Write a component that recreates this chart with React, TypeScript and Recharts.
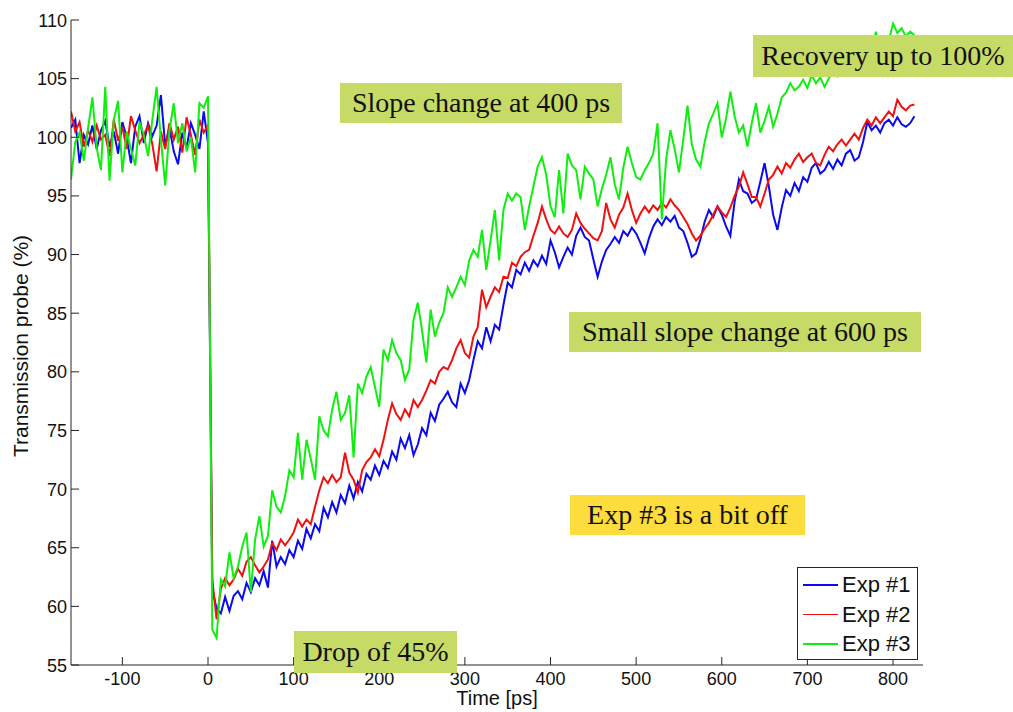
import React from "react";
import { LineChart, Line, XAxis, YAxis, Legend } from "recharts";

// Sampling times (ps), rows of 10
const times: number[] = [
  -160, -155, -150, -145, -140, -135, -130, -125, -120, -115,
  -110, -105, -100, -95, -90, -85, -80, -75, -70, -65,
  -60, -55, -50, -45, -40, -35, -30, -25, -20, -15,
  -10, -5, 0, 5, 10, 15, 20, 25, 30, 35,
  40, 45, 50, 55, 60, 65, 70, 75, 80, 85,
  90, 95, 100, 105, 110, 115, 120, 125, 130, 135,
  140, 145, 150, 155, 160, 165, 170, 175, 180, 185,
  190, 195, 200, 205, 210, 215, 220, 225, 230, 235,
  240, 245, 250, 255, 260, 265, 270, 275, 280, 285,
  290, 295, 300, 305, 310, 315, 320, 325, 330, 335,
  340, 345, 350, 355, 360, 365, 370, 375, 380, 385,
  390, 395, 400, 405, 410, 415, 420, 425, 430, 435,
  440, 445, 450, 455, 460, 465, 470, 475, 480, 485,
  490, 495, 500, 505, 510, 515, 520, 525, 530, 535,
  540, 545, 550, 555, 560, 565, 570, 575, 580, 585,
  590, 595, 600, 605, 610, 615, 620, 625, 630, 635,
  640, 645, 650, 655, 660, 665, 670, 675, 680, 685,
  690, 695, 700, 705, 710, 715, 720, 725, 730, 735,
  740, 745, 750, 755, 760, 765, 770, 775, 780, 785,
  790, 795, 800, 805, 810, 815, 820, 825,
];

// Exp #1 (blue)
const exp1: number[] = [
  100.8, 101.5, 97.8, 100.2, 99.4, 101.0, 99.0, 100.6, 101.4, 99.2,
  100.5, 98.6, 101.3, 100.0, 97.8, 100.9, 101.8, 99.5, 101.2, 100.1,
  101.0, 103.6, 99.3, 100.8, 98.8, 97.7, 100.4, 99.1, 101.2, 100.2,
  99.0, 102.2, 99.5, 61.5, 59.8, 59.4, 60.8, 59.6, 60.9, 61.3,
  60.6, 62.0, 61.2, 62.4, 61.8, 63.0, 61.6, 65.6, 63.4, 64.2,
  63.6, 64.8, 64.2, 65.6, 64.9, 66.6, 65.8, 67.0, 66.4, 68.4,
  67.6, 68.9, 68.0, 69.5, 68.8, 70.3, 69.2, 70.6, 69.8, 71.3,
  70.8, 72.0, 71.2, 72.4, 71.8, 73.2, 72.5, 74.3, 73.5, 74.6,
  72.9, 73.8, 75.2, 74.6, 76.5, 75.8, 77.2, 77.7, 78.3, 77.4,
  77.0, 79.0, 78.2, 79.3, 81.0, 82.6, 82.0, 83.8, 82.6, 84.0,
  83.6, 85.7, 87.6, 87.2, 88.7, 88.3, 89.3, 88.6, 89.5, 89.0,
  89.9, 89.2, 91.2, 90.2, 88.9, 89.8, 90.6, 90.0, 91.6, 92.3,
  91.5, 91.2, 89.6, 88.1, 89.4, 90.4, 90.9, 91.5, 91.0, 92.0,
  91.6, 92.3, 91.8, 91.0, 90.1, 91.4, 92.4, 93.0, 92.5, 93.2,
  92.8, 93.3, 92.3, 92.0, 91.0, 89.8, 90.1, 91.3, 92.8, 93.8,
  93.2, 94.1, 93.4, 92.4, 91.6, 94.5, 96.4, 95.4, 95.2, 94.4,
  94.7, 96.2, 97.8, 95.8, 93.4, 92.1, 94.0, 95.5, 95.0, 96.1,
  95.4, 96.6, 96.2, 97.4, 97.8, 96.9, 97.2, 97.9, 97.3, 98.1,
  97.6, 98.6, 98.9, 98.0, 98.3, 99.6, 101.3, 100.6, 101.0, 100.4,
  101.2, 101.5, 101.0, 101.7, 101.1, 100.9, 101.2, 101.8,
];

// Exp #2 (red)
const exp2: number[] = [
  102.2, 100.5, 101.3, 99.2, 100.6, 99.6, 101.0, 99.8, 100.2, 98.4,
  101.5, 99.7, 100.9, 99.0, 101.8, 100.6, 99.5, 100.2, 101.0, 99.4,
  97.1, 100.5, 99.0, 101.2, 99.8, 100.9, 98.7, 101.7, 100.2, 98.5,
  101.5, 100.4, 101.0, 62.3, 58.9, 61.5, 62.4, 61.8, 62.3, 63.2,
  62.6, 63.8, 64.2, 63.5, 62.9, 63.4, 64.0, 65.4, 64.8, 65.7,
  65.2, 65.7, 66.3, 67.4, 66.8, 67.4, 67.0, 68.5, 69.9, 71.0,
  70.5, 71.2, 70.6, 71.0, 73.1, 71.4, 70.8, 69.7, 71.6, 72.3,
  72.7, 73.4, 72.8, 74.2, 75.9, 77.3, 76.4, 75.9, 76.8, 76.2,
  77.6, 77.0, 77.6, 78.4, 79.3, 79.0, 80.0, 80.4, 80.2, 81.0,
  82.0, 82.7, 81.6, 81.2, 83.0, 83.8, 87.0, 85.5, 86.4, 87.2,
  86.8, 88.1, 88.0, 89.3, 89.0, 89.8, 90.2, 90.4, 91.6, 92.7,
  94.1, 93.0, 92.1, 91.8, 92.4, 91.8, 91.5, 92.1, 93.5, 92.7,
  92.2, 91.8, 91.4, 91.2, 92.0, 94.4, 93.0, 92.3, 93.4, 94.0,
  95.2, 93.8, 92.7, 93.5, 94.1, 93.6, 94.2, 93.8, 94.4, 94.0,
  94.7, 94.2, 93.8, 93.2, 92.6, 91.8, 91.2, 91.6, 92.2, 92.7,
  93.4, 94.1, 93.6, 93.2, 94.0, 95.0, 95.8, 97.0, 96.0, 94.9,
  94.9, 94.1, 95.2, 96.4, 96.8, 97.5, 96.9, 97.8, 97.4, 98.1,
  98.6, 97.9, 98.3, 98.6, 97.8, 97.6, 98.5, 99.2, 98.8, 99.4,
  99.8, 99.3, 99.8, 100.3, 99.8, 100.8, 101.5, 101.0, 101.7, 101.2,
  101.7, 102.2, 101.8, 103.2, 102.6, 102.3, 102.7, 102.8,
];

// Exp #3 (green)
const exp3: number[] = [
  96.4, 99.6, 100.4, 98.0, 100.8, 103.4, 99.1, 97.2, 104.3, 96.3,
  101.5, 103.1, 97.0, 100.5, 99.0, 97.6, 101.3, 100.2, 98.4, 101.5,
  104.3, 99.8, 95.9, 100.6, 102.9, 99.5, 101.2, 98.8, 100.0, 97.0,
  102.9, 102.5, 103.5, 58.0, 57.3, 62.3, 61.7, 64.6, 62.4, 63.4,
  65.1, 66.3, 61.2, 65.7, 67.7, 65.1, 66.0, 69.9, 68.5, 68.0,
  69.4, 71.6, 71.0, 74.8, 70.8, 74.2, 72.6, 70.8, 76.2, 75.0,
  74.5, 76.8, 78.3, 75.9, 76.5, 78.0, 72.7, 79.0, 78.2, 79.6,
  80.4, 78.7, 77.0, 81.9, 81.0, 82.7, 81.6, 81.0, 79.3, 80.2,
  84.4, 85.9, 83.5, 80.8, 85.3, 83.0, 84.2, 85.0, 87.2, 86.4,
  87.2, 88.1, 87.4, 89.5, 90.4, 89.8, 92.1, 88.7, 91.2, 93.8,
  89.5, 93.8, 95.2, 94.6, 95.2, 94.9, 92.1, 94.1, 95.8, 97.5,
  98.3, 96.8, 94.1, 93.2, 97.2, 93.5, 98.6, 97.6, 97.2, 94.7,
  97.5, 96.9, 96.4, 94.1, 95.6, 96.8, 98.3, 96.0, 94.7, 97.4,
  99.2, 97.8, 96.6, 96.4, 97.2, 97.8, 98.6, 101.2, 93.0, 98.1,
  100.6, 99.0, 97.0, 99.8, 102.7, 99.4, 98.1, 97.5, 99.6, 101.2,
  102.0, 102.9, 100.0, 101.6, 103.9, 101.8, 100.4, 101.0, 99.2, 101.2,
  102.9, 100.4, 101.4, 102.6, 100.9, 102.0, 103.4, 103.8, 104.6, 104.0,
  104.3, 104.9, 104.2, 105.3, 104.6, 105.1, 104.3, 105.0, 105.7, 105.2,
  106.0, 105.4, 106.8, 106.2, 107.0, 106.4, 107.5, 107.1, 109.0, 107.4,
  108.5, 108.2, 109.7, 108.9, 109.3, 108.6, 109.0, 108.7,
];

const xTicks = [-100, 0, 100, 200, 300, 400, 500, 600, 700, 800];
const yTicks = [55, 60, 65, 70, 75, 80, 85, 90, 95, 100, 105, 110];

const seriesNames = ["Exp #1", "Exp #2", "Exp #3"];
const seriesColors = ["#0a0af0", "#f01010", "#10ee10"];

const data = times.map((t, i) => ({ t, e1: exp1[i], e2: exp2[i], e3: exp3[i] }));

const AXIS = "#262626";
const SANS = "'Liberation Sans', Arial, sans-serif";
const SERIF = "'Liberation Serif', 'DejaVu Serif', serif";
const TICK_LEN = 8;

const BottomTick = (props: any) => {
  const { x, y, payload } = props;
  return (
    <g>
      <line x1={x} x2={x} y1={y} y2={y - TICK_LEN} stroke={AXIS} strokeWidth={1} />
      <text x={x} y={y + 20} textAnchor="middle" fontFamily={SANS} fontSize={18} fill="#111">
        {payload.value}
      </text>
    </g>
  );
};
const TopTick = (props: any) => {
  const { x, y } = props;
  return <line x1={x} x2={x} y1={y} y2={y + TICK_LEN} stroke={AXIS} strokeWidth={1} />;
};
const LeftTick = (props: any) => {
  const { x, y, payload } = props;
  return (
    <g>
      <line x1={x} x2={x + TICK_LEN} y1={y} y2={y} stroke={AXIS} strokeWidth={1} />
      <text x={x - 4} y={y + 6.5} textAnchor="end" fontFamily={SANS} fontSize={18} fill="#111">
        {payload.value}
      </text>
    </g>
  );
};
const RightTick = (props: any) => {
  const { x, y } = props;
  return <line x1={x} x2={x - TICK_LEN} y1={y} y2={y} stroke={AXIS} strokeWidth={1} />;
};

const LegendBox = (props: any) => {
  const payload = props.payload || [];
  return (
    <div
      style={{
        width: 121,
        height: 93,
        boxSizing: "border-box",
        border: `1px solid ${AXIS}`,
        background: "#fff",
        paddingTop: 2,
      }}
    >
      {payload.map((p: any, i: number) => (
        <div key={i} style={{ display: "flex", alignItems: "center", height: 29.5 }}>
          <div style={{ width: 35, height: 1.5, background: p.color, marginLeft: 5, marginRight: 4 }} />
          <span style={{ fontFamily: SANS, fontSize: 22, color: "#111", lineHeight: "29px" }}>{p.value}</span>
        </div>
      ))}
    </div>
  );
};

type Note = { text: string; left: number; top: number; width: number; height: number; bg: string };
const notes: Note[] = [
  { text: "Slope change at 400 ps", left: 340, top: 83, width: 282, height: 40, bg: "#c6da66" },
  { text: "Recovery up to 100%", left: 753, top: 35, width: 260, height: 42, bg: "#c6da66" },
  { text: "Small slope change at 600 ps", left: 569, top: 312, width: 352, height: 40, bg: "#c6da66" },
  { text: "Exp #3 is a bit off", left: 570, top: 495, width: 235, height: 40, bg: "#fddc3d" },
  { text: "Drop of 45%", left: 294, top: 631, width: 163, height: 42, bg: "#c6da66" },
];

export default function App() {
  return (
    <div style={{ position: "absolute", left: 0, top: 0, width: 1013, height: 712, background: "#fff", overflow: "hidden" }}>
      <LineChart width={1013} height={712} data={data} margin={{ top: 20, right: 90, bottom: 0, left: 0 }}>
        <XAxis
          dataKey="t"
          type="number"
          domain={[-160, 835]}
          allowDataOverflow
          ticks={xTicks}
          height={47}
          stroke={AXIS}
          tickLine={false}
          tickSize={0}
          tickMargin={0}
          tick={<BottomTick />}
          interval={0}
        />
        <XAxis
          xAxisId="top"
          dataKey="t"
          type="number"
          orientation="top"
          domain={[-160, 835]}
          allowDataOverflow
          ticks={xTicks}
          height={0}
          stroke={AXIS}
          tickLine={false}
          tickSize={0}
          tickMargin={0}
          tick={<TopTick />}
          interval={0}
        />
        <YAxis
          type="number"
          domain={[55, 110]}
          allowDataOverflow
          ticks={yTicks}
          width={71}
          stroke={AXIS}
          tickLine={false}
          tickSize={0}
          tickMargin={0}
          tick={<LeftTick />}
          interval={0}
        />
        <YAxis
          yAxisId="right"
          orientation="right"
          type="number"
          domain={[55, 110]}
          allowDataOverflow
          ticks={yTicks}
          width={0}
          stroke={AXIS}
          tickLine={false}
          tickSize={0}
          tickMargin={0}
          tick={<RightTick />}
          interval={0}
        />
        <Line dataKey="e1" name={seriesNames[0]} stroke={seriesColors[0]} strokeWidth={2} dot={false} isAnimationActive={false} />
        <Line dataKey="e2" name={seriesNames[1]} stroke={seriesColors[1]} strokeWidth={2} dot={false} isAnimationActive={false} />
        <Line dataKey="e3" name={seriesNames[2]} stroke={seriesColors[2]} strokeWidth={2} dot={false} isAnimationActive={false} />
        <Legend
          layout="horizontal"
          verticalAlign="middle"
          align="center"
          content={<LegendBox />}
          wrapperStyle={{ position: "absolute", left: 797, top: 567, width: 121, height: 93 }}
        />
      </LineChart>
      <div
        style={{
          position: "absolute",
          left: 497,
          top: 698,
          transform: "translate(-50%, -50%)",
          fontFamily: SANS,
          fontSize: 20,
          color: "#111",
          whiteSpace: "nowrap",
        }}
      >
        Time [ps]
      </div>
      <div
        style={{
          position: "absolute",
          left: 21,
          top: 346,
          transform: "translate(-50%, -50%) rotate(-90deg)",
          fontFamily: SANS,
          fontSize: 21,
          color: "#111",
          whiteSpace: "nowrap",
        }}
      >
        Transmission probe (%)
      </div>
      {notes.map((n, i) => (
        <div
          key={i}
          style={{
            position: "absolute",
            left: n.left,
            top: n.top,
            width: n.width,
            height: n.height,
            background: n.bg,
            display: "flex",
            alignItems: "center",
            justifyContent: "center",
            fontFamily: SERIF,
            fontSize: 28,
            color: "#111",
            whiteSpace: "nowrap",
          }}
        >
          {n.text}
        </div>
      ))}
    </div>
  );
}
